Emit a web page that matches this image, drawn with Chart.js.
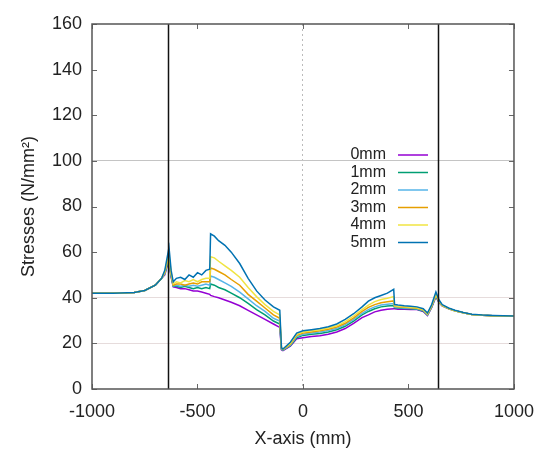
<!DOCTYPE html>
<html>
<head>
<meta charset="utf-8">
<script src="https://cdn.jsdelivr.net/npm/chart.js@4.4.1/dist/chart.umd.min.js"></script>
<style>
  html, body { margin: 0; padding: 0; background: #fff; }
  #wrap { width: 546px; height: 459px; }
</style>
</head>
<body>
<div id="wrap"><canvas id="stressChart" width="546" height="459"></canvas></div>
<script>
// positions along the beam (mm)
const xPos = [-1000, -900, -800, -750, -700, -670, -655, -645, -635, -625, -615, -600, -580, -560, -540, -520,
  -500, -480, -460, -442, -438, -420, -400, -370, -340, -300, -260, -220, -180, -140, -110, -102, -95, -60, -30,
  0, 40, 80, 120, 160, 200, 240, 280, 310, 340, 370, 400, 430, 434, 450, 480, 510, 540, 570, 590, 610, 630, 645,
  660, 690, 720, 760, 800, 850, 900, 1000];

const stress0 = [42, 42, 42.3, 43.2, 45.5, 48.5, 50, 53.5, 55, 49, 44.8, 44.5, 44, 44, 43.5, 43,
  43, 42.5, 42, 41.5, 41, 40.5, 40, 39, 38, 36.5, 34.5, 32.5, 30.5, 28.5, 27, 17.2, 16.8, 18.8, 22,
  22.5, 23, 23.3, 24, 25, 26.5, 28.8, 31.3, 32.5, 33.8, 34.5, 35, 35.2, 35.2, 35, 35, 34.9, 34.8, 34, 32.2, 35.8, 40.5, 37.8,
  36.4, 35.2, 34.3, 33.4, 32.7, 32.3, 32.1, 32];
const stress1 = [42, 42, 42.3, 43.2, 45.5, 48.5, 50.5, 54, 56, 49.5, 45, 45, 44.5, 45, 44.5, 44,
  44.5, 44, 44.5, 44, 46, 45.5, 44.5, 43.5, 42, 40, 37.5, 34.8, 32.5, 29.8, 28.5, 17.4, 17, 19, 22.5,
  23.5, 24, 24.3, 25, 26, 27.5, 29.8, 32.5, 34, 35.2, 36, 36.4, 36.6, 35.6, 35.5, 35.3, 35.2, 35, 34.2, 32.4, 36, 40.8, 38,
  36.5, 35.3, 34.3, 33.4, 32.7, 32.3, 32.1, 32];
const stress2 = [42, 42, 42.3, 43.2, 45.5, 48.5, 50.5, 54.5, 56.5, 50, 45.2, 45.5, 45, 45.5, 45, 45.5,
  45, 45.5, 46, 45.5, 49.5, 49, 48, 46.5, 45, 42.5, 39.5, 36.5, 34, 31, 29.8, 17.6, 17.2, 19.2, 23,
  24, 24.5, 25, 25.6, 26.6, 28.2, 30.5, 33.2, 34.8, 36, 36.8, 37.2, 37.5, 35.9, 35.7, 35.5, 35.4, 35.2, 34.4, 32.6, 36.2, 41, 38.2,
  36.5, 35.3, 34.3, 33.4, 32.7, 32.3, 32.1, 32];
const stress3 = [42, 42, 42.3, 43.2, 45.5, 48.5, 51, 55, 57.5, 50.5, 45.5, 46, 46, 45.5, 46, 46.5,
  46, 47, 47, 47, 53, 52.5, 51.5, 50, 48, 45.5, 41.5, 38.5, 35.5, 32.5, 31, 17.8, 17.3, 19.5, 23.5,
  24.5, 25, 25.5, 26.2, 27.2, 28.8, 31.2, 34, 35.8, 37, 37.8, 38.2, 38.6, 36.2, 36, 35.8, 35.6, 35.4, 34.6, 32.8, 36.3, 41.2, 38.3,
  36.5, 35.3, 34.3, 33.4, 32.7, 32.3, 32.1, 32];
const stress4 = [42, 42, 42.3, 43.2, 45.5, 48.5, 51.5, 55.5, 59, 51, 46, 47, 46.5, 47.5, 47, 48,
  47, 48, 48.5, 48.5, 58, 57.5, 56, 54, 52, 49, 44.5, 40.5, 37, 34, 32.5, 18, 17.5, 20, 24,
  25, 25.5, 26, 26.7, 27.7, 29.5, 32, 34.8, 36.8, 38.3, 39.2, 39.8, 40.5, 36.5, 36.3, 36, 35.8, 35.6, 34.8, 33, 36.5, 41.5, 38.5,
  36.6, 35.3, 34.3, 33.4, 32.7, 32.3, 32.1, 32];
const stress5 = [42, 42, 42.3, 43.2, 45.5, 48.5, 52, 57, 62, 52, 47, 48.5, 49, 48, 50, 49,
  51, 50, 52, 52.5, 68, 67, 65, 63, 60, 55, 48.5, 43, 39, 36, 34.5, 18, 17.5, 20.5, 24.5,
  25.5, 26, 26.5, 27.3, 28.5, 30.5, 33, 36, 38.5, 40, 41, 42, 43.7, 37, 36.8, 36.5, 36.3, 36, 35.2, 33.3, 37, 42.5, 39,
  37, 35.5, 34.5, 33.5, 32.8, 32.4, 32.2, 32];

const seriesNames = ["0mm", "1mm", "2mm", "3mm", "4mm", "5mm"];
const seriesColors = ["#9400d3", "#009e73", "#56b4e9", "#e69f00", "#f0e442", "#0072b2"];
const seriesValues = [stress0, stress1, stress2, stress3, stress4, stress5];

// support edges (black vertical lines)
const supportX = [-640, 640];

const xTicks = [-1000, -500, 0, 500, 1000];
const yTicks = [0, 20, 40, 60, 80, 100, 120, 140, 160];

const font = "'Liberation Sans', Arial, sans-serif";

// frame, support lines, inward ticks and gnuplot-like key
const extras = {
  id: "extras",
  afterDatasetsDraw(chart) {
    const { ctx, chartArea: a, scales } = chart;
    const xs = scales.x, ys = scales.y;
    ctx.save();

    ctx.strokeStyle = "#111";
    ctx.lineWidth = 1.5;
    supportX.forEach((v) => {
      const px = Math.round(xs.getPixelForValue(v)) + 0.5;
      ctx.beginPath();
      ctx.moveTo(px, a.top);
      ctx.lineTo(px, a.bottom);
      ctx.stroke();
    });

    ctx.strokeStyle = "#666";
    ctx.lineWidth = 1;
    yTicks.forEach((v) => {
      const py = Math.round(ys.getPixelForValue(v)) + 0.5;
      ctx.beginPath();
      ctx.moveTo(a.left, py); ctx.lineTo(a.left + 5, py);
      ctx.moveTo(a.right, py); ctx.lineTo(a.right - 5, py);
      ctx.stroke();
    });
    xTicks.forEach((v) => {
      const px = Math.round(xs.getPixelForValue(v)) + 0.5;
      ctx.beginPath();
      ctx.moveTo(px, a.bottom); ctx.lineTo(px, a.bottom - 5);
      ctx.moveTo(px, a.top); ctx.lineTo(px, a.top + 5);
      ctx.stroke();
    });

    ctx.strokeStyle = "#555";
    ctx.lineWidth = 1.5;
    ctx.strokeRect(a.left, a.top, a.right - a.left, a.bottom - a.top);

    // key
    ctx.font = "16px " + font;
    ctx.textAlign = "right";
    ctx.textBaseline = "middle";
    seriesNames.forEach((name, i) => {
      const y = 155 + i * 17.5;
      ctx.fillStyle = "#222";
      ctx.fillText(name, 386, y);
      ctx.strokeStyle = seriesColors[i];
      ctx.lineWidth = 1.5;
      ctx.beginPath();
      ctx.moveTo(398, y);
      ctx.lineTo(428, y);
      ctx.stroke();
    });
    ctx.restore();
  },
};

new Chart(document.getElementById("stressChart"), {
  type: "line",
  data: {
    datasets: seriesNames.map((name, i) => ({
      label: name,
      data: xPos.map((x, j) => ({ x: x, y: seriesValues[i][j] })),
      borderColor: seriesColors[i],
      borderWidth: 1.5,
      pointRadius: 0,
      tension: 0,
      fill: false,
      order: 6 - i,
    })),
  },
  options: {
    responsive: false,
    animation: false,
    layout: { padding: { top: 24, right: 29, left: 0, bottom: 0 } },
    plugins: { legend: { display: false }, tooltip: { enabled: false } },
    scales: {
      x: {
        type: "linear",
        min: -1000,
        max: 1000,
        afterBuildTicks: (s) => { s.ticks = xTicks.map((v) => ({ value: v })); },
        afterFit: (s) => { s.height = 70; },
        grid: {
          drawTicks: false,
          color: (c) => (c.tick && c.tick.value === 0 ? "#bbbbbb" : "rgba(0,0,0,0)"),
        },
        border: { display: false, dash: [2, 3] },
        ticks: {
          padding: 12,
          color: "#222",
          font: { family: font, size: 18 },
          callback: (v) => String(v),
        },
        title: {
          display: true,
          text: "X-axis (mm)",
          color: "#222",
          font: { family: font, size: 18 },
          padding: { top: 4, bottom: 9 },
        },
      },
      y: {
        min: 0,
        max: 160,
        afterBuildTicks: (s) => { s.ticks = yTicks.map((v) => ({ value: v })); },
        afterFit: (s) => { s.width = 92; },
        grid: {
          drawTicks: false,
          color: (c) => {
            const v = c.tick ? c.tick.value : null;
            if (v === 100) return "#c4c4c4";
            if (v === 40 || v === 20) return "#e6dcdc";
            return "rgba(0,0,0,0)";
          },
        },
        border: { display: false },
        ticks: {
          padding: 10,
          color: "#222",
          font: { family: font, size: 18 },
          callback: (v) => String(v),
        },
        title: {
          display: true,
          text: "Stresses (N/mm²)",
          color: "#222",
          font: { family: font, size: 18 },
          padding: { top: 18, bottom: 4 },
        },
      },
    },
  },
  plugins: [extras],
});
</script>
</body>
</html>
